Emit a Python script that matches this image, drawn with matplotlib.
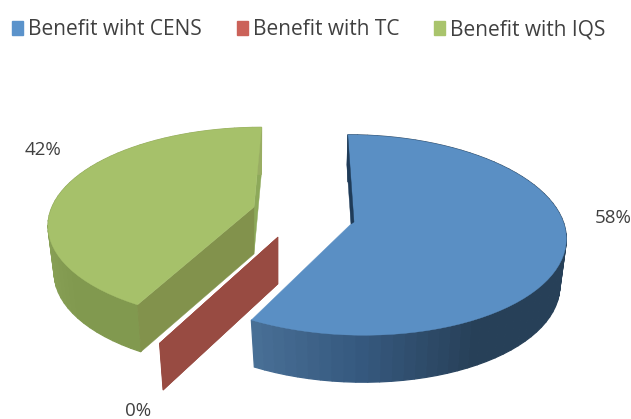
import matplotlib
matplotlib.use("Agg")
import matplotlib.pyplot as plt
from matplotlib.patches import Patch
import numpy as np

labels = ["Benefit wiht CENS", "Benefit with TC", "Benefit with IQS"]
values = [58, 0, 42]
pct_labels = ["58%", "0%", "42%"]

face_colors = ["#5a8fc4", "#a0483f", "#a6c16a"]
legend_colors = ["#5b93cb", "#cb6259", "#a9c46c"]
text_color = "#404040"

# slice geometry in pixels: apex x, apex y, rim centre x, rx, ry, perspective, shear
geometry = [
    (351, 224, 355, 209, 99, 0.11, 8),
    (278, 237, 278, 196, 102, 0.18, -6),
    (254, 207, 259, 207, 94, 0.18, -3),
]
depth = 47
shrink = 0.97

# wall shading, angle (deg clockwise from top) -> colour
wall_angles = [
    [0, 150, 180, 208.8],
    [0, 360],
    [208.8, 230, 270, 360],
]
wall_shades = [
    ["#274058", "#274058", "#36597f", "#4a7198"],
    ["#984b42", "#984b42"],
    ["#81994f", "#81994f", "#8fa65c", "#99ad63"],
]
cut_colors = [None, "#984b42", "#82924c"]
back_colors = [None, "#984b42", "#8da95a"]
sliver_color = "#1f3b58"

label_pos = [(613, 218), (138, 411), (43, 150)]


def rim(t, g):
    rim_x, cy, rx, ry, k, sh = g[2], g[1], g[3], g[4], g[5], g[6]
    big_x, big_y = np.sin(t), np.cos(t)
    s = 1 / (1 + k * big_y)
    return rim_x + rx * big_x * s - sh * big_y * s, cy - ry * big_y * s


def drop(x, y, cx):
    return cx + (x - cx) * shrink, y + depth


def to_rgb(hex_list):
    return np.array([matplotlib.colors.to_rgb(c) for c in hex_list])


def draw_slice(ax, start, end, i):
    g = geometry[i]
    cx, cy = g[0], g[1]
    ts = np.linspace(start, end, max(2, int(end - start) // 3 + 2))
    xs, ys = rim(np.radians(ts), g)
    bx, by = drop(xs, ys, cx)
    ax_x, ax_y = drop(cx, cy, cx)

    # the end further back on the disc gets the back cut, the nearer one the front cut
    if np.cos(np.radians(start)) >= np.cos(np.radians(end)):
        back, front = 0, -1
    else:
        back, front = -1, 0

    if back_colors[i]:
        ax.fill([xs[back], bx[back], ax_x, cx], [ys[back], by[back], ax_y, cy],
                color=back_colors[i], lw=0.3, zorder=2)
    shades = to_rgb(wall_shades[i])
    order = np.argsort(-np.cos(np.radians(ts[:-1])))
    for j in order:
        c = [np.interp(ts[j], wall_angles[i], shades[:, n]) for n in range(3)]
        ax.fill([xs[j], xs[j + 1], bx[j + 1], bx[j]],
                [ys[j], ys[j + 1], by[j + 1], by[j]],
                color=c, lw=0.9, zorder=3)
    if cut_colors[i]:
        ax.fill([cx, xs[front], bx[front], ax_x], [cy, ys[front], by[front], ax_y],
                color=cut_colors[i], lw=0.3, zorder=4)
    ax.fill(np.r_[cx, xs], np.r_[cy, ys], color=face_colors[i], lw=0.3, zorder=5)


fig = plt.figure(figsize=(6.31, 4.19), dpi=100)
ax = fig.add_axes([0, 0, 1, 1])
ax.set_xlim(0, 631)
ax.set_ylim(419, 0)
ax.axis("off")

angle = 0
for i, v in enumerate(values):
    sweep = v / sum(values) * 360
    draw_slice(ax, angle, angle + sweep, i)
    angle += sweep

# dark sliver along the blue back edge
tx, ty = rim(0.0, geometry[0])
ax.fill([tx, geometry[0][0] + 3, geometry[0][0], tx - 1],
        [ty, geometry[0][1] - 2, geometry[0][1], ty + 30],
        color=sliver_color, lw=0.3, zorder=6)

for txt, pos in zip(pct_labels, label_pos):
    ax.text(pos[0], pos[1], txt, fontsize=13.5, color=text_color, family="Open Sans",
            ha="center", va="center")

handles = [Patch(color=c) for c in legend_colors]
ax.legend(handles, labels, ncol=3, loc="upper left", bbox_to_anchor=(0.004, 0.976),
          frameon=False, handlelength=0.53, handleheight=0.6, handletextpad=0.24,
          columnspacing=1.68, borderpad=0.45, borderaxespad=0,
          prop={"family": "Open Sans", "size": 15}, labelcolor=text_color)

fig.savefig("out.png", dpi=100)
